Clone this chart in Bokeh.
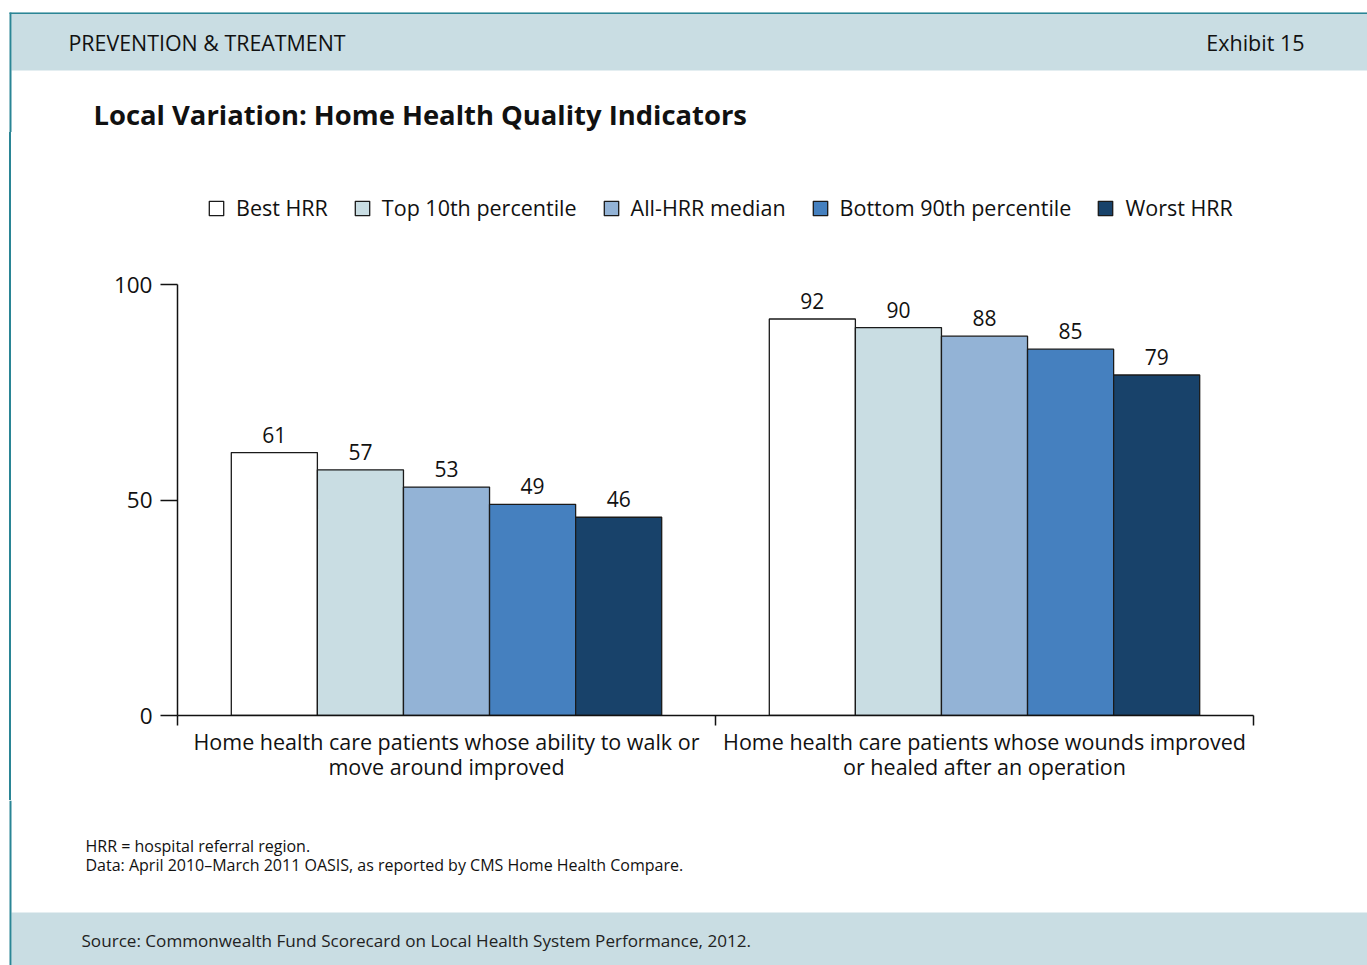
from bokeh.plotting import figure
from bokeh.models import Range1d, FixedTicker, LinearAxis, Legend, LegendItem, ColumnDataSource, Spacer
from bokeh.layouts import row
from bokeh.embed import file_html
from bokeh.resources import INLINE
from bokeh.core.properties import value

FONT = "Open Sans"

# ---------------- data ----------------
categories = [
    "Home health care patients whose ability to walk or\nmove around improved",
    "Home health care patients whose wounds improved\nor healed after an operation",
]
series = ["Best HRR", "Top 10th percentile", "All-HRR median", "Bottom 90th percentile", "Worst HRR"]
best_hrr = [61, 92]
top_10th = [57, 90]
all_median = [53, 88]
bottom_90th = [49, 85]
worst_hrr = [46, 79]
y_ticks = [0, 50, 100]
colors = ["#ffffff", "#c9dde3", "#93b3d6", "#4580bf", "#18426a"]

header_left = "PREVENTION & TREATMENT"
header_right = "Exhibit 15"
chart_title = "Local Variation: Home Health Quality Indicators"
note_1 = "HRR = hospital referral region."
note_2 = "Data: April 2010\u2013March 2011 OASIS, as reported by CMS Home Health Compare."
source_note = "Source: Commonwealth Fund Scorecard on Local Health System Performance, 2012."

BAND = "#c9dde3"
TEAL = "#2a8595"
PAGE_W = 1367
TXT = "#111111"


def blank(width, height, xr, yr):
    f = figure(width=width, height=height, x_range=xr, y_range=yr,
               output_backend="svg", toolbar_location=None,
               x_axis_location=None, y_axis_location=None, min_border=0)
    f.outline_line_color = None
    f.grid.grid_line_color = None
    f.background_fill_color = "white"
    f.border_fill_color = "white"
    return f

# ---------------- header (page rows 0..132) ----------------
H_TOP, H_BOT = 0, 132
header = blank(PAGE_W, H_BOT - H_TOP, Range1d(0, PAGE_W), Range1d(H_BOT, H_TOP))
header.quad(left=[11], right=[PAGE_W], top=[12], bottom=[70], fill_color=BAND, line_color=None)
header.quad(left=[9], right=[PAGE_W], top=[12], bottom=[13.5], fill_color=TEAL, line_color=None)
header.quad(left=[9], right=[11], top=[12], bottom=[H_BOT], fill_color=TEAL, line_color=None)
header.text(x=[68], y=[42], text=[header_left], text_font=value(FONT), text_font_size="21.4px",
            text_baseline="middle", text_align="left", text_color=TXT)
header.text(x=[1304], y=[42], text=[header_right], text_font=value(FONT), text_font_size="21.5px",
            text_baseline="middle", text_align="right", text_color=TXT)
header.text(x=[93], y=[114], text=[chart_title], text_font=value(FONT), text_font_size="27.4px",
            text_font_style="bold", text_baseline="middle", text_align="left", text_color=TXT)

# ---------------- main chart (page rows 132..800) ----------------
M_TOP, M_BOT = 132, 800
FRAME_TOP, Y100, Y0 = 180, 284, 715          # page rows of frame top, value 100, value 0
M_H = M_BOT - M_TOP
MAIN_W = PAGE_W - 11
y_top = 100 * (Y0 - FRAME_TOP) / (Y0 - Y100)  # frame extends above 100 to host the legend
main = figure(width=MAIN_W, height=M_H, x_range=Range1d(0, 2), y_range=Range1d(0, y_top),
              output_backend="svg", toolbar_location=None,
              x_axis_location=None, y_axis_location=None,
              min_border_left=166, min_border_right=114,
              min_border_top=FRAME_TOP - M_TOP, min_border_bottom=M_BOT - Y0)
main.outline_line_color = None
main.grid.grid_line_color = None
main.background_fill_color = "white"
main.border_fill_color = "white"

yaxis = LinearAxis(ticker=FixedTicker(ticks=y_ticks), bounds=(0, 100))
yaxis.major_tick_out = 17
yaxis.major_tick_in = 0
yaxis.minor_tick_line_color = None
yaxis.axis_line_width = 1.5
yaxis.major_tick_line_width = 1.5
yaxis.axis_line_color = TXT
yaxis.major_tick_line_color = TXT
yaxis.major_label_text_font = FONT
yaxis.major_label_text_font_size = "22.5px"
yaxis.major_label_text_color = TXT
yaxis.major_label_standoff = 8
main.add_layout(yaxis, "left")

xaxis = LinearAxis(ticker=FixedTicker(ticks=[0, 1, 2]))
xaxis.major_label_overrides = {0: "", 1: "", 2: ""}
xaxis.major_label_text_font_size = "1px"
xaxis.major_label_standoff = 0
xaxis.major_tick_out = 10
xaxis.major_tick_in = 0
xaxis.minor_tick_line_color = None
xaxis.axis_line_width = 1.5
xaxis.major_tick_line_width = 1.5
xaxis.axis_line_color = TXT
xaxis.major_tick_line_color = TXT
main.add_layout(xaxis, "below")

cat_axis = LinearAxis(ticker=FixedTicker(ticks=[0.5, 1.5]))
cat_axis.major_label_overrides = {0.5: categories[0], 1.5: categories[1]}
cat_axis.axis_line_color = None
cat_axis.major_tick_line_color = None
cat_axis.minor_tick_line_color = None
cat_axis.major_tick_out = 0
cat_axis.major_tick_in = 0
cat_axis.major_label_standoff = 1
cat_axis.major_label_text_font = FONT
cat_axis.major_label_text_font_size = "21.5px"
cat_axis.major_label_text_line_height = 0.88
cat_axis.major_label_text_color = TXT
main.add_layout(cat_axis, "below")

values = [best_hrr, top_10th, all_median, bottom_90th, worst_hrr]
n = len(series)
bar_w = 0.8 / n
items = []
for j, (name, vals, col) in enumerate(zip(series, values, colors)):
    xs = [i + 0.1 + bar_w * (j + 0.5) for i in range(len(categories))]
    src = ColumnDataSource(dict(x=xs, top=vals, lab=[str(v) for v in vals]))
    r = main.vbar(x="x", top="top", bottom=0, width=bar_w, source=src,
                  fill_color=col, line_color="#1a1a1a", line_width=1.3)
    main.text(x="x", y="top", text="lab", source=src, text_align="center",
              text_baseline="bottom", y_offset=-10, text_font=value(FONT),
              text_font_size="21px", text_color=TXT)
    items.append(LegendItem(label=name, renderers=[r]))

legend = Legend(items=items, orientation="horizontal", location=(30, Y0 - 222),
                padding=0, margin=0, spacing=25, glyph_width=18, glyph_height=18,
                label_standoff=11, label_height=20, label_text_font=FONT,
                label_text_font_size="21.5px", label_text_color=TXT,
                border_line_color=None, background_fill_alpha=0)
main.add_layout(legend, "center")

main_row = row(Spacer(width=9, height=M_H),
               Spacer(width=2, height=M_H, styles={"background-color": TEAL}),
               main)

# ---------------- footer (page rows 800..965) ----------------
F_TOP, F_BOT = 800, 965
footer = blank(PAGE_W, F_BOT - F_TOP, Range1d(0, PAGE_W), Range1d(F_BOT, F_TOP))
footer.quad(left=[11], right=[PAGE_W], top=[912], bottom=[F_BOT], fill_color=BAND, line_color=None)
footer.quad(left=[9], right=[11], top=[F_TOP], bottom=[F_BOT], fill_color=TEAL, line_color=None)
footer.text(x=[85], y=[845], text=[note_1], text_font=value(FONT), text_font_size="16px",
            text_baseline="middle", text_align="left", text_color=TXT)
footer.text(x=[85], y=[864], text=[note_2], text_font=value(FONT), text_font_size="16px",
            text_baseline="middle", text_align="left", text_color=TXT)
footer.text(x=[81], y=[940], text=[source_note], text_font=value(FONT), text_font_size="17.1px",
            text_baseline="middle", text_align="left", text_color="#222222")

open("out.html", "w").write(file_html((header, main_row, footer), INLINE))
